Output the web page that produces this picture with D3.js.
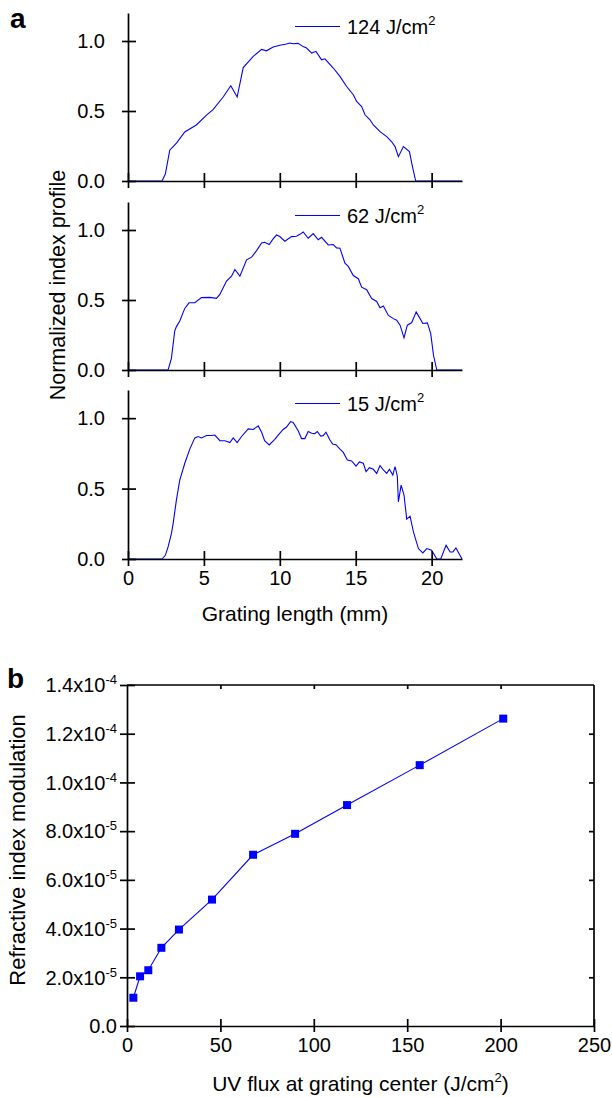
<!DOCTYPE html>
<html><head><meta charset="utf-8">
<script src="https://cdn.jsdelivr.net/npm/d3@7"></script>
<style>
body{margin:0;background:#fff}
text{font-family:"Liberation Sans",Arial,Helvetica,sans-serif;fill:#000}
</style>
</head><body>
<svg id="c" width="612" height="1097"></svg>
<script>
// ---------- DATA ----------
// Panel a: normalized index profiles vs grating length (mm)
const len124 = [0, 2.24, 2.46, 2.75, 3.19, 3.74, 4.5, 5.17, 5.6, 6.27, 6.77, 7.19, 7.59, 8.25, 8.8, 9.12, 9.56, 10.0, 10.44, 10.66, 10.88, 11.2, 11.54, 11.76, 12.1, 12.38, 12.75, 12.97, 13.52, 13.96, 14.4, 14.84, 15.06, 15.39, 15.61, 15.94, 16.16, 16.6, 17.04, 17.37, 17.59, 17.81, 18.14, 18.54, 18.69, 18.95, 22];
const prof124 = [0, 0, 0.05, 0.22, 0.27, 0.35, 0.40, 0.47, 0.51, 0.60, 0.68, 0.60, 0.81, 0.89, 0.94, 0.93, 0.957, 0.97, 0.978, 0.986, 0.98, 0.983, 0.96, 0.95, 0.914, 0.926, 0.866, 0.873, 0.807, 0.747, 0.675, 0.616, 0.568, 0.532, 0.473, 0.437, 0.40, 0.353, 0.317, 0.28, 0.246, 0.174, 0.246, 0.21, 0.126, 0, 0];

const len62 = [0, 2.64, 2.86, 3.08, 3.19, 3.41, 3.74, 4.02, 4.4, 4.84, 5.39, 5.83, 6.05, 6.49, 6.82, 7.04, 7.37, 7.81, 8.14, 8.47, 8.8, 9.0, 9.3, 9.56, 9.78, 10.0, 10.33, 10.77, 11.1, 11.32, 11.54, 11.87, 12.2, 12.53, 12.75, 13.19, 13.52, 13.74, 13.96, 14.29, 14.51, 14.84, 15.17, 15.39, 15.72, 16.05, 16.38, 16.6, 16.82, 17.15, 17.48, 17.7, 17.92, 18.18, 18.4, 18.69, 18.98, 19.2, 19.42, 19.72, 19.94, 20.12, 20.34, 22];
const prof62 = [0, 0, 0.083, 0.28, 0.31, 0.35, 0.44, 0.48, 0.48, 0.517, 0.519, 0.512, 0.54, 0.635, 0.67, 0.718, 0.67, 0.787, 0.806, 0.853, 0.907, 0.912, 0.896, 0.936, 0.964, 0.953, 0.92, 0.953, 0.955, 0.969, 0.986, 0.941, 0.974, 0.93, 0.948, 0.893, 0.896, 0.872, 0.87, 0.763, 0.74, 0.675, 0.652, 0.592, 0.573, 0.51, 0.49, 0.445, 0.457, 0.39, 0.367, 0.355, 0.32, 0.23, 0.32, 0.339, 0.415, 0.374, 0.332, 0.336, 0.26, 0.107, 0, 0];

const len15 = [0, 2.24, 2.46, 2.64, 2.86, 2.97, 3.19, 3.41, 3.74, 4.07, 4.4, 4.62, 4.84, 5.17, 5.5, 5.72, 6.05, 6.38, 6.71, 6.93, 7.19, 7.48, 7.92, 8.25, 8.58, 8.8, 9.0, 9.3, 9.67, 9.89, 10.22, 10.44, 10.71, 10.88, 11.21, 11.43, 11.65, 11.87, 12.1, 12.3, 12.47, 12.69, 12.86, 13.04, 13.3, 13.48, 13.7, 13.96, 14.18, 14.45, 14.73, 15.02, 15.24, 15.5, 15.68, 15.9, 16.16, 16.38, 16.6, 16.82, 17.04, 17.22, 17.44, 17.59, 17.74, 17.81, 17.99, 18.18, 18.36, 18.58, 18.8, 19.13, 19.42, 19.68, 20.0, 20.34, 20.6, 20.95, 21.22, 21.4, 21.6, 22];
const prof15 = [0, 0, 0.026, 0.086, 0.18, 0.25, 0.42, 0.56, 0.68, 0.78, 0.86, 0.87, 0.86, 0.877, 0.877, 0.88, 0.84, 0.84, 0.827, 0.86, 0.827, 0.87, 0.924, 0.92, 0.945, 0.90, 0.84, 0.81, 0.85, 0.88, 0.92, 0.937, 0.976, 0.97, 0.91, 0.855, 0.855, 0.905, 0.893, 0.89, 0.905, 0.873, 0.876, 0.90, 0.845, 0.817, 0.812, 0.78, 0.757, 0.703, 0.696, 0.66, 0.689, 0.68, 0.62, 0.648, 0.637, 0.608, 0.663, 0.632, 0.608, 0.637, 0.596, 0.656, 0.589, 0.406, 0.525, 0.454, 0.283, 0.304, 0.192, 0.074, 0.043, 0.074, 0.062, 0, 0, 0.097, 0.05, 0.05, 0.078, 0];

const doseLabels = ["124 J/cm", "62 J/cm", "15 J/cm"];

// Panel b: refractive index modulation vs UV flux
const uvFlux = [3.4, 7.0, 11.4, 18.4, 27.8, 45.5, 67.5, 90.0, 117.8, 156.7, 201.4];
const indexMod = [1.16e-5, 2.04e-5, 2.29e-5, 3.21e-5, 3.96e-5, 5.19e-5, 7.03e-5, 7.89e-5, 9.07e-5, 1.071e-4, 1.262e-4];

// Tick values
const xTicksA = [0, 5, 10, 15, 20];
const yTicksA = [0, 0.5, 1.0];
const xTicksB = [0, 50, 100, 150, 200, 250];
const yTicksB = [0, 2e-5, 4e-5, 6e-5, 8e-5, 1.0e-4, 1.2e-4, 1.4e-4];

// ---------- DRAW ----------
const svg = d3.select("#c");
const blue = "#0000ff";
const axisW = 1.7;

function styleAxis(g) {
  g.select(".domain").attr("stroke", "#000").attr("stroke-width", axisW);
  g.selectAll(".tick line").attr("stroke", "#000").attr("stroke-width", axisW);
  g.selectAll(".tick text").attr("font-size", 20).attr("fill", "#000")
    .attr("font-family", '"Liberation Sans",Arial,sans-serif');
}

// Panel a
const xA = d3.scaleLinear().domain([0, 22]).range([128, 462]);
const panelsA = [
  {top: 13, bottom: 181, xs: len124, ys: prof124, label: doseLabels[0], showX: false},
  {top: 202, bottom: 370, xs: len62, ys: prof62, label: doseLabels[1], showX: false},
  {top: 390, bottom: 559, xs: len15, ys: prof15, label: doseLabels[2], showX: true}
];

panelsA.forEach(p => {
  const y = d3.scaleLinear().domain([0, 1.2]).range([p.bottom, p.top]);
  const g = svg.append("g");
  const pts = d3.zip(p.xs, p.ys);
  g.append("path").datum(pts)
    .attr("d", d3.line().x(d => xA(d[0])).y(d => y(d[1])))
    .attr("fill", "none").attr("stroke", blue).attr("stroke-width", 1.1);

  // bottom axis
  const xg = g.append("g").attr("transform", `translate(0,${p.bottom})`)
    .call(d3.axisBottom(xA).tickValues(xTicksA).tickSizeOuter(0).tickFormat(p.showX ? d3.format("d") : ""));
  styleAxis(xg);
  xg.selectAll(".tick line").attr("y1", -8).attr("y2", 7);
  xg.selectAll(".tick text").attr("y", 26).attr("dy", 0);

  // left axis
  const yg = g.append("g").attr("transform", `translate(128,0)`)
    .call(d3.axisLeft(y).tickValues(yTicksA).tickSizeOuter(0).tickFormat(d3.format(".1f")));
  styleAxis(yg);
  yg.selectAll(".tick line").attr("x1", -6).attr("x2", 8);
  yg.selectAll(".tick text").attr("x", -23).attr("dy", "0.34em");

  // legend
  const ly = p.top + 13.5;
  g.append("line").attr("x1", 295).attr("x2", 340).attr("y1", ly).attr("y2", ly)
    .attr("stroke", blue).attr("stroke-width", 1.1);
  const t = g.append("text").attr("x", 347).attr("y", ly + 7).attr("font-size", 20);
  t.append("tspan").text(p.label);
  t.append("tspan").attr("dy", -9).attr("font-size", 13).text("2");
});

svg.append("text").attr("x", 10).attr("y", 28).attr("font-size", 28).attr("font-weight", "bold").text("a");
svg.append("text").attr("transform", "translate(65,285) rotate(-90)").attr("text-anchor", "middle")
  .attr("font-size", 21.5).text("Normalized index profile");
svg.append("text").attr("x", 295).attr("y", 621).attr("text-anchor", "middle")
  .attr("font-size", 21).text("Grating length (mm)");

// Panel b
const xB = d3.scaleLinear().domain([0, 250]).range([127, 594]);
const yB = d3.scaleLinear().domain([0, 1.4e-4]).range([1026, 685]);
const gb = svg.append("g");

// frame: top and right
gb.append("line").attr("x1", xB(0)).attr("x2", xB(250)).attr("y1", yB(1.4e-4)).attr("y2", yB(1.4e-4))
  .attr("stroke", "#000").attr("stroke-width", axisW);
gb.append("line").attr("x1", xB(250)).attr("x2", xB(250)).attr("y1", yB(1.4e-4)).attr("y2", yB(0))
  .attr("stroke", "#000").attr("stroke-width", axisW);
const topG = gb.append("g").attr("transform", `translate(0,${yB(1.4e-4)})`)
  .call(d3.axisTop(xB).tickValues(xTicksB.slice(1, -1)).tickSizeInner(-4).tickSizeOuter(0).tickFormat(""));
styleAxis(topG);
topG.select(".domain").remove();
const rightG = gb.append("g").attr("transform", `translate(${xB(250)},0)`)
  .call(d3.axisRight(yB).tickValues(yTicksB.slice(1, -1)).tickSizeInner(-5).tickSizeOuter(0).tickFormat(""));
styleAxis(rightG);
rightG.select(".domain").remove();

// bottom axis
const bx = gb.append("g").attr("transform", `translate(0,${yB(0)})`)
  .call(d3.axisBottom(xB).tickValues(xTicksB).tickSizeOuter(0).tickFormat(d3.format("d")));
styleAxis(bx);
bx.selectAll(".tick line").attr("y1", -7).attr("y2", 6);
bx.selectAll(".tick text").attr("y", 26).attr("dy", 0);

// left axis
const by = gb.append("g").attr("transform", `translate(${xB(0)},0)`)
  .call(d3.axisLeft(yB).tickValues(yTicksB).tickSizeOuter(0).tickFormat(""));
styleAxis(by);
by.selectAll(".tick line").attr("x1", -7).attr("x2", 8);
by.selectAll(".tick text").each(function(d) {
  const t = d3.select(this).attr("x", -10).attr("dy", "0.34em");
  if (d === 0) { t.text("0.0"); return; }
  const [m, e] = d.toExponential(1).split("e");
  t.append("tspan").text(m + "x10");
  t.append("tspan").attr("dy", -8).attr("font-size", 13).text(e);
});

// data
const ptsB = d3.zip(uvFlux, indexMod);
gb.append("path").datum(ptsB)
  .attr("d", d3.line().x(d => xB(d[0])).y(d => yB(d[1])))
  .attr("fill", "none").attr("stroke", blue).attr("stroke-width", 1.1);
gb.selectAll("rect.m").data(ptsB).enter().append("rect").attr("class", "m")
  .attr("x", d => xB(d[0]) - 4).attr("y", d => yB(d[1]) - 4)
  .attr("width", 8).attr("height", 8).attr("fill", blue);

svg.append("text").attr("x", 7).attr("y", 688).attr("font-size", 28).attr("font-weight", "bold").text("b");
svg.append("text").attr("transform", `translate(25,850) rotate(-90)`).attr("text-anchor", "middle")
  .attr("font-size", 22).text("Refractive index modulation");
const xl = svg.append("text").attr("x", (xB(0) + xB(250)) / 2).attr("y", 1091).attr("text-anchor", "middle").attr("font-size", 21);
xl.append("tspan").text("UV flux at grating center (J/cm");
xl.append("tspan").attr("dy", -9).attr("font-size", 13).text("2");
xl.append("tspan").attr("dy", 9).text(")");
</script>
</body></html>
